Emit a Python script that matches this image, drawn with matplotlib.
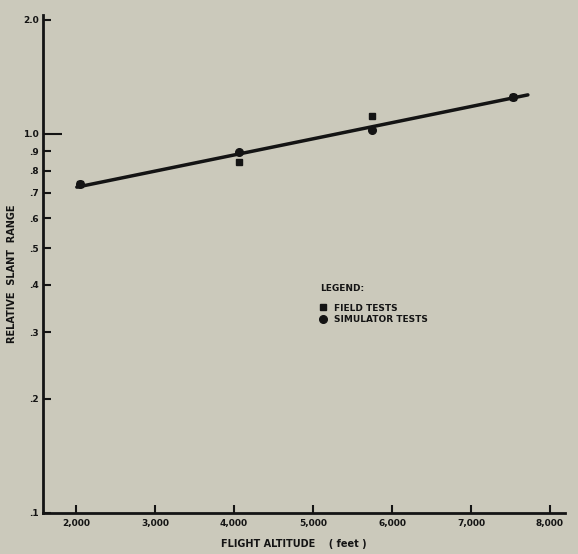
import matplotlib
matplotlib.use("Agg")
import matplotlib.pyplot as plt
from matplotlib.ticker import FixedLocator, NullLocator

# Data
field_x = [2050, 4060, 5750, 7530]
field_y = [0.74, 0.843, 1.116, 1.25]
sim_x = [2050, 4060, 5750, 7530]
sim_y = [0.738, 0.896, 1.025, 1.252]
fit_x = [2010, 7720]
fit_y = [0.724, 1.268]

x_ticks = [2000, 3000, 4000, 5000, 6000, 7000, 8000]
x_tick_labels = ["2,000", "3,000", "4,000", "5,000", "6,000", "7,000", "8,000"]
y_ticks = [0.1, 0.2, 0.3, 0.4, 0.5, 0.6, 0.7, 0.8, 0.9, 1.0, 2.0]
y_tick_labels = [".1", ".2", ".3", ".4", ".5", ".6", ".7", ".8", ".9", "1.0", "2.0"]

bg = "#cbc9bb"
ink = "#141414"

fig = plt.figure(figsize=(5.78, 5.54), dpi=100, facecolor=bg)
ax = fig.add_axes([43/578, 1-513/554, (565-43)/578, (513-15)/554])
ax.set_facecolor(bg)

ax.set_yscale("log")
ax.set_xlim(1582, 8190)
ax.set_ylim(0.1, 2.06)

for s in ["top", "right"]:
    ax.spines[s].set_visible(False)
for s in ["left", "bottom"]:
    ax.spines[s].set_linewidth(2.0)
    ax.spines[s].set_color(ink)

ax.plot(fit_x, fit_y, color=ink, lw=2.5, solid_capstyle="round", zorder=2)
ax.plot(field_x, field_y, ls="none", marker="s", ms=4.5, color=ink, label="FIELD TESTS", zorder=3)
ax.plot(sim_x, sim_y, ls="none", marker="o", ms=5.5, color=ink, label="SIMULATOR TESTS", zorder=3)

ax.xaxis.set_major_locator(FixedLocator(x_ticks))
ax.set_xticklabels(x_tick_labels, fontsize=6.5, fontweight="heavy", color=ink)
ax.yaxis.set_major_locator(FixedLocator(y_ticks))
ax.yaxis.set_minor_locator(NullLocator())
ax.set_yticklabels(y_tick_labels, fontsize=6.5, fontweight="heavy", color=ink)
ax.tick_params(axis="x", direction="in", length=6, width=1.5, color=ink, pad=4)
ax.tick_params(axis="y", direction="in", length=6, width=1.5, color=ink, pad=3)
# longer tick at 1.0
ax.yaxis.get_major_ticks()[9].tick1line.set_markersize(14)

ax.set_xlabel("FLIGHT ALTITUDE    ( feet )", fontsize=7, fontweight="heavy", color=ink)
ax.set_ylabel("RELATIVE  SLANT  RANGE", fontsize=7, fontweight="heavy", color=ink)
ax.xaxis.set_label_coords(0.481, -0.052)
ax.yaxis.set_label_coords(-0.05, 0.48)

leg = ax.legend(loc="upper left", bbox_to_anchor=(0.524, 0.468), frameon=False,
                title="LEGEND:", alignment="left", handlelength=0.6, handletextpad=0.9,
                labelspacing=0.3, borderaxespad=0,
                prop={"size": 6.5, "weight": "heavy"},
                title_fontproperties={"size": 6.5, "weight": "heavy"})
for t in leg.get_texts():
    t.set_color(ink)
leg.get_title().set_color(ink)
leg._legend_box.sep = 8

fig.savefig("out.png", dpi=100, facecolor=bg)
